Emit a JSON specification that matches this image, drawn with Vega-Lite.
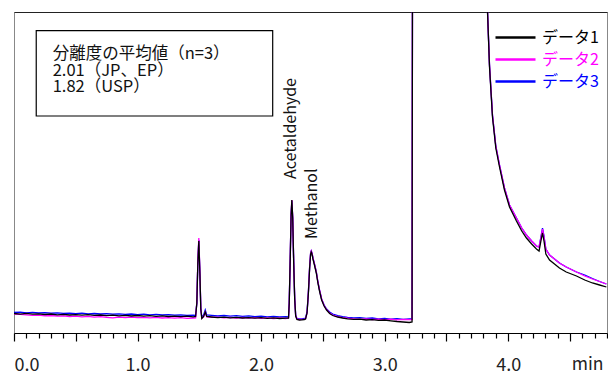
{
  "$schema": "https://vega.github.io/schema/vega-lite/v6.json",
  "width": 593,
  "height": 321,
  "autosize": "none",
  "padding": {"left": 14, "top": 12, "right": 1, "bottom": 41},
  "config": {
    "font": "Noto Sans CJK JP",
    "view": {"stroke": "#888888", "strokeWidth": 1},
    "axis": {"grid": false}
  },
  "datasets": {
    "d1": [
      {"t":0.00,"v":19.5},{"t":0.05,"v":18.8},{"t":0.10,"v":19.6},{"t":0.15,"v":18.9},{"t":0.20,"v":19.2},{"t":0.25,"v":18.5},{"t":0.30,"v":19.0},{"t":0.35,"v":18.2},{"t":0.40,"v":18.7},{"t":0.45,"v":18.0},
      {"t":0.50,"v":18.4},{"t":0.55,"v":17.8},{"t":0.60,"v":18.3},{"t":0.65,"v":17.6},{"t":0.70,"v":18.0},{"t":0.75,"v":17.4},{"t":0.80,"v":17.9},{"t":0.85,"v":17.2},{"t":0.90,"v":17.6},{"t":0.95,"v":17.0},
      {"t":1.00,"v":17.5},{"t":1.05,"v":16.9},{"t":1.10,"v":17.3},{"t":1.15,"v":16.7},{"t":1.20,"v":17.1},{"t":1.25,"v":16.5},{"t":1.30,"v":16.9},{"t":1.35,"v":16.3},{"t":1.40,"v":16.8},{"t":1.45,"v":16.2},
      {"t":1.47,"v":16.5},{"t":1.48,"v":30},{"t":1.488,"v":70},{"t":1.496,"v":92},{"t":1.505,"v":58},{"t":1.512,"v":24},{"t":1.52,"v":14.5},{"t":1.535,"v":16.5},{"t":1.548,"v":21},{"t":1.56,"v":16.5},
      {"t":1.60,"v":16.0},{"t":1.65,"v":15.4},{"t":1.70,"v":15.9},{"t":1.75,"v":15.2},{"t":1.80,"v":15.6},{"t":1.85,"v":15.0},{"t":1.90,"v":15.4},{"t":1.95,"v":14.8},{"t":2.00,"v":15.3},{"t":2.05,"v":14.6},
      {"t":2.10,"v":15.1},{"t":2.15,"v":14.5},{"t":2.20,"v":14.9},{"t":2.222,"v":15},{"t":2.228,"v":30},{"t":2.236,"v":75},{"t":2.243,"v":118},{"t":2.249,"v":133},{"t":2.256,"v":115},{"t":2.264,"v":70},
      {"t":2.272,"v":34},{"t":2.28,"v":17},{"t":2.29,"v":13.5},{"t":2.31,"v":13},{"t":2.33,"v":13.2},{"t":2.35,"v":13.5},{"t":2.36,"v":14},{"t":2.372,"v":20},{"t":2.383,"v":40},{"t":2.393,"v":65},
      {"t":2.401,"v":79},{"t":2.406,"v":81},{"t":2.412,"v":79},{"t":2.42,"v":74},{"t":2.432,"v":68},{"t":2.447,"v":60},{"t":2.46,"v":50},{"t":2.473,"v":42},{"t":2.49,"v":33},{"t":2.51,"v":27},
      {"t":2.53,"v":23},{"t":2.555,"v":19.5},{"t":2.58,"v":17.5},{"t":2.62,"v":16},{"t":2.66,"v":15},{"t":2.70,"v":14.2},{"t":2.75,"v":13.6},{"t":2.80,"v":13.9},{"t":2.85,"v":13.0},{"t":2.90,"v":13.4},
      {"t":2.95,"v":12.6},{"t":3.00,"v":13.0},{"t":3.05,"v":12.2},{"t":3.10,"v":11.5},{"t":3.15,"v":11.0},{"t":3.20,"v":10.5},{"t":3.222,"v":11},{"t":3.228,"v":600},{"t":3.80,"v":800},
      {"t":3.833,"v":321},{"t":3.849,"v":266},{"t":3.873,"v":216},{"t":3.90,"v":185},{"t":3.93,"v":166},{"t":3.97,"v":143},{"t":4.011,"v":126},{"t":4.067,"v":112},{"t":4.11,"v":102},{"t":4.148,"v":95},
      {"t":4.19,"v":89},{"t":4.229,"v":84},{"t":4.25,"v":82},{"t":4.265,"v":92},{"t":4.278,"v":100},{"t":4.29,"v":92},{"t":4.305,"v":79},{"t":4.335,"v":73},{"t":4.375,"v":69},{"t":4.415,"v":65},
      {"t":4.47,"v":61},{"t":4.553,"v":57},{"t":4.62,"v":53},{"t":4.682,"v":50},{"t":4.74,"v":48},{"t":4.795,"v":46}
    ],
    "d2": [
      {"t":0.00,"v":19.0},{"t":0.05,"v":18.6},{"t":0.10,"v":18.2},{"t":0.15,"v":17.6},{"t":0.20,"v":17.9},{"t":0.25,"v":17.2},{"t":0.30,"v":17.5},{"t":0.35,"v":16.8},{"t":0.40,"v":17.1},{"t":0.45,"v":16.5},
      {"t":0.50,"v":16.9},{"t":0.55,"v":16.2},{"t":0.60,"v":16.6},{"t":0.65,"v":15.9},{"t":0.70,"v":16.4},{"t":0.75,"v":15.6},{"t":0.80,"v":15.2},{"t":0.85,"v":15.8},{"t":0.90,"v":15.4},{"t":0.95,"v":15.9},
      {"t":1.00,"v":15.3},{"t":1.05,"v":15.7},{"t":1.10,"v":15.1},{"t":1.15,"v":15.6},{"t":1.20,"v":15.0},{"t":1.25,"v":15.4},{"t":1.30,"v":14.8},{"t":1.35,"v":15.3},{"t":1.40,"v":14.6},{"t":1.45,"v":15.0},
      {"t":1.47,"v":15.2},{"t":1.48,"v":31},{"t":1.488,"v":72},{"t":1.496,"v":95},{"t":1.505,"v":60},{"t":1.512,"v":25},{"t":1.52,"v":14.8},{"t":1.535,"v":16.2},{"t":1.548,"v":21},{"t":1.56,"v":16.2},
      {"t":1.60,"v":15.6},{"t":1.65,"v":15.9},{"t":1.70,"v":15.2},{"t":1.75,"v":15.7},{"t":1.80,"v":15.0},{"t":1.85,"v":15.5},{"t":1.90,"v":14.8},{"t":1.95,"v":15.3},{"t":2.00,"v":14.6},{"t":2.05,"v":15.1},
      {"t":2.10,"v":14.5},{"t":2.15,"v":15.0},{"t":2.20,"v":14.4},{"t":2.222,"v":15},{"t":2.228,"v":30},{"t":2.236,"v":75},{"t":2.243,"v":119},{"t":2.249,"v":133},{"t":2.256,"v":116},{"t":2.264,"v":71},
      {"t":2.272,"v":35},{"t":2.28,"v":17.5},{"t":2.29,"v":14},{"t":2.31,"v":13.5},{"t":2.33,"v":13.6},{"t":2.35,"v":13.8},{"t":2.36,"v":14.2},{"t":2.372,"v":20},{"t":2.383,"v":41},{"t":2.393,"v":66},
      {"t":2.401,"v":80},{"t":2.406,"v":82},{"t":2.412,"v":80},{"t":2.42,"v":75},{"t":2.432,"v":69},{"t":2.447,"v":61},{"t":2.46,"v":51},{"t":2.473,"v":43},{"t":2.49,"v":34},{"t":2.51,"v":27.5},
      {"t":2.53,"v":23.5},{"t":2.555,"v":20},{"t":2.58,"v":18},{"t":2.62,"v":16.4},{"t":2.66,"v":15.4},{"t":2.70,"v":14.8},{"t":2.75,"v":14.2},{"t":2.80,"v":13.7},{"t":2.85,"v":14.1},{"t":2.90,"v":13.5},
      {"t":2.95,"v":13.9},{"t":3.00,"v":13.3},{"t":3.05,"v":13.8},{"t":3.10,"v":13.2},{"t":3.15,"v":13.7},{"t":3.20,"v":13.4},{"t":3.222,"v":13.5},{"t":3.228,"v":600},{"t":3.80,"v":800},
      {"t":3.833,"v":321},{"t":3.849,"v":268},{"t":3.873,"v":218},{"t":3.90,"v":187},{"t":3.93,"v":168},{"t":3.97,"v":145},{"t":4.011,"v":128},{"t":4.067,"v":115},{"t":4.11,"v":105},{"t":4.148,"v":98},
      {"t":4.19,"v":92},{"t":4.229,"v":87},{"t":4.25,"v":86},{"t":4.265,"v":95},{"t":4.278,"v":104},{"t":4.29,"v":96},{"t":4.305,"v":84},{"t":4.335,"v":78},{"t":4.375,"v":74},{"t":4.415,"v":70},
      {"t":4.47,"v":66},{"t":4.553,"v":61},{"t":4.62,"v":57},{"t":4.682,"v":54},{"t":4.74,"v":51.5},{"t":4.795,"v":49}
    ],
    "d3": [
      {"t":0.00,"v":20.5},{"t":0.05,"v":20.8},{"t":0.10,"v":20.1},{"t":0.15,"v":20.6},{"t":0.20,"v":20.0},{"t":0.25,"v":20.4},{"t":0.30,"v":19.8},{"t":0.35,"v":20.2},{"t":0.40,"v":19.6},{"t":0.45,"v":19.9},
      {"t":0.50,"v":19.4},{"t":0.55,"v":19.8},{"t":0.60,"v":19.2},{"t":0.65,"v":19.5},{"t":0.70,"v":19.0},{"t":0.75,"v":19.3},{"t":0.80,"v":18.8},{"t":0.85,"v":19.2},{"t":0.90,"v":18.6},{"t":0.95,"v":19.0},
      {"t":1.00,"v":18.4},{"t":1.05,"v":18.9},{"t":1.10,"v":18.2},{"t":1.15,"v":18.6},{"t":1.20,"v":18.0},{"t":1.25,"v":18.4},{"t":1.30,"v":17.8},{"t":1.35,"v":18.1},{"t":1.40,"v":17.6},{"t":1.45,"v":17.9},
      {"t":1.47,"v":17.5},{"t":1.48,"v":30},{"t":1.488,"v":70},{"t":1.496,"v":93},{"t":1.505,"v":59},{"t":1.512,"v":25},{"t":1.52,"v":16},{"t":1.535,"v":18},{"t":1.548,"v":23},{"t":1.56,"v":18},
      {"t":1.60,"v":17.6},{"t":1.65,"v":17.0},{"t":1.70,"v":17.5},{"t":1.75,"v":16.8},{"t":1.80,"v":17.3},{"t":1.85,"v":16.6},{"t":1.90,"v":17.1},{"t":1.95,"v":16.4},{"t":2.00,"v":16.9},{"t":2.05,"v":16.2},
      {"t":2.10,"v":16.6},{"t":2.15,"v":16.0},{"t":2.20,"v":16.3},{"t":2.222,"v":16},{"t":2.228,"v":31},{"t":2.236,"v":76},{"t":2.243,"v":118},{"t":2.249,"v":132},{"t":2.256,"v":115},{"t":2.264,"v":71},
      {"t":2.272,"v":35},{"t":2.28,"v":18},{"t":2.29,"v":14.5},{"t":2.31,"v":14},{"t":2.33,"v":14.2},{"t":2.35,"v":14.5},{"t":2.36,"v":15},{"t":2.372,"v":21},{"t":2.383,"v":41},{"t":2.393,"v":66},
      {"t":2.401,"v":80},{"t":2.406,"v":82},{"t":2.412,"v":80},{"t":2.42,"v":75},{"t":2.432,"v":69},{"t":2.447,"v":61},{"t":2.46,"v":51},{"t":2.473,"v":43},{"t":2.49,"v":34},{"t":2.51,"v":28},
      {"t":2.53,"v":24},{"t":2.555,"v":21},{"t":2.58,"v":19},{"t":2.62,"v":17.4},{"t":2.66,"v":16.4},{"t":2.70,"v":15.6},{"t":2.75,"v":15.1},{"t":2.80,"v":15.4},{"t":2.85,"v":14.6},{"t":2.90,"v":15.0},
      {"t":2.95,"v":14.2},{"t":3.00,"v":14.6},{"t":3.05,"v":13.9},{"t":3.10,"v":14.3},{"t":3.15,"v":13.6},{"t":3.20,"v":14.0},{"t":3.222,"v":14},{"t":3.228,"v":600},{"t":3.80,"v":800},
      {"t":3.833,"v":321},{"t":3.849,"v":268},{"t":3.873,"v":218},{"t":3.90,"v":187},{"t":3.93,"v":168},{"t":3.97,"v":145},{"t":4.011,"v":128},{"t":4.067,"v":115},{"t":4.11,"v":105},{"t":4.148,"v":98},
      {"t":4.19,"v":92},{"t":4.229,"v":87},{"t":4.25,"v":86},{"t":4.265,"v":96},{"t":4.278,"v":105},{"t":4.29,"v":97},{"t":4.305,"v":84},{"t":4.335,"v":78},{"t":4.375,"v":74},{"t":4.415,"v":70},
      {"t":4.47,"v":66},{"t":4.553,"v":61},{"t":4.62,"v":58},{"t":4.682,"v":54.5},{"t":4.74,"v":51.5},{"t":4.795,"v":49}
    ],
    "box": [
      {"x1":0.18,"x2":2.094,"y1":302.3,"y2":217,"tx":0.313,"ty":287,"txt":"分離度の平均値（n=3）\n2.01（JP、EP）\n1.82（USP）"}
    ],
    "ann": [
      {"t":2.243,"v":154,"label":"Acetaldehyde"},
      {"t":2.413,"v":94,"label":"Methanol"}
    ]
  },
  "resolve": {"axis": {"x": "independent", "y": "independent"}},
  "layer": [
    {
      "data": {"name": "box"},
      "mark": {"type": "rect", "fill": "white", "stroke": "#000000", "strokeWidth": 1.2},
      "encoding": {
        "x": {"field": "x1", "type": "quantitative", "scale": {"domain": [0, 4.8], "nice": false, "zero": false},
              "axis": {"orient": "top", "domain": true, "domainColor": "#222222", "domainWidth": 1.2, "ticks": false, "labels": false, "title": null}},
        "x2": {"field": "x2"},
        "y": {"field": "y1", "type": "quantitative", "scale": {"domain": [0, 321], "nice": false, "zero": false}, "axis": null},
        "y2": {"field": "y2"}
      }
    },
    {
      "data": {"name": "box"},
      "mark": {"type": "text", "align": "left", "baseline": "top", "fontSize": 16.5, "lineHeight": 16.5, "lineBreak": "\n", "color": "#111111", "font": "Noto Sans CJK JP"},
      "encoding": {
        "x": {"field": "tx", "type": "quantitative", "axis": null},
        "y": {"field": "ty", "type": "quantitative", "axis": null},
        "text": {"field": "txt"}
      }
    },
    {
      "data": {"name": "d3"},
      "mark": {"type": "line", "strokeWidth": 1.3, "clip": true},
      "encoding": {
        "x": {"field": "t", "type": "quantitative", "axis": null},
        "y": {"field": "v", "type": "quantitative", "axis": null},
        "color": {"datum": "データ3"}
      }
    },
    {
      "data": {"name": "d2"},
      "mark": {"type": "line", "strokeWidth": 1.3, "clip": true},
      "encoding": {
        "x": {"field": "t", "type": "quantitative", "axis": null},
        "y": {"field": "v", "type": "quantitative", "axis": null},
        "color": {"datum": "データ2"}
      }
    },
    {
      "data": {"name": "d1"},
      "mark": {"type": "line", "strokeWidth": 1.3, "clip": true},
      "encoding": {
        "x": {
          "field": "t", "type": "quantitative",
          "axis": {
            "orient": "bottom",
            "values": [0,0.1,0.2,0.3,0.4,0.5,0.6,0.7,0.8,0.9,1,1.1,1.2,1.3,1.4,1.5,1.6,1.7,1.8,1.9,2,2.1,2.2,2.3,2.4,2.5,2.6,2.7,2.8,2.9,3,3.1,3.2,3.3,3.4,3.5,3.6,3.7,3.8,3.9,4,4.1,4.2,4.3,4.4,4.5,4.6,4.7,4.8],
            "domainColor": "#000000", "domainWidth": 1.2,
            "tickColor": "#000000", "tickWidth": 1.2,
            "tickSize": {"condition": {"test": "abs(datum.value*2 - round(datum.value*2)) < 0.001", "value": 8}, "value": 5},
            "labelExpr": "abs(datum.value - round(datum.value)) < 0.001 && datum.value < 4.5 ? format(datum.value, '.1f') : ''",
            "labelFlush": true,
            "labelOverlap": false,
            "labelBaseline": "alphabetic",
            "labelFont": "Noto Sans CJK JP", "labelFontSize": 18, "labelColor": "#222222", "labelPadding": 29,
            "title": "min", "titleFont": "Noto Sans CJK JP", "titleFontSize": 17.5, "titleFontWeight": "normal", "titleColor": "#222222",
            "titleAnchor": "end", "titleAlign": "right", "titleBaseline": "alphabetic", "titleX": 589, "titleY": 36
          }
        },
        "y": {"field": "v", "type": "quantitative", "axis": null},
        "color": {
          "datum": "データ1",
          "scale": {"domain": ["データ1", "データ2", "データ3"], "range": ["#000000", "#ff00ff", "#0000ff"]},
          "legend": {
            "orient": "none", "legendX": 492, "legendY": 16, "title": null,
            "symbolType": "M-2.5,0H2.5", "symbolSize": 256, "symbolStrokeWidth": 2.5,
            "labelFont": "Noto Sans CJK JP", "labelFontSize": 16, "labelOffset": 17, "rowPadding": 4,
            "encode": {"labels": {"update": {"fill": {"scale": "color", "field": "value"}}}}
          }
        }
      }
    },
    {
      "data": {"name": "ann"},
      "mark": {"type": "text", "angle": 270, "align": "left", "baseline": "middle", "fontSize": 16, "color": "#111111", "font": "Noto Sans CJK JP"},
      "encoding": {
        "x": {"field": "t", "type": "quantitative", "axis": null},
        "y": {"field": "v", "type": "quantitative", "axis": null},
        "text": {"field": "label"}
      }
    }
  ]
}
